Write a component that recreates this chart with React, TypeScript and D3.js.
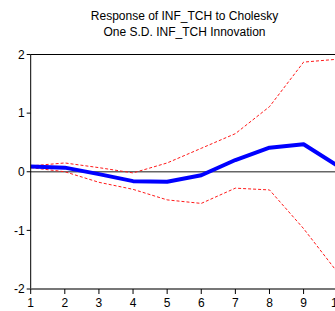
import React from 'react';
import * as d3 from 'd3';

const periods = [1, 2, 3, 4, 5, 6, 7, 8, 9, 10];
const response = [0.09, 0.07, -0.04, -0.16, -0.17, -0.06, 0.2, 0.41, 0.47, 0.1];
const upperBand = [0.1, 0.15, 0.07, -0.02, 0.15, 0.4, 0.65, 1.11, 1.87, 1.92];
const lowerBand = [0.07, 0.0, -0.18, -0.3, -0.48, -0.54, -0.28, -0.31, -0.97, -1.72];
const yTicks = [-2, -1, 0, 1, 2];
const titleLines = ['Response of INF_TCH to Cholesky', 'One S.D. INF_TCH Innovation'];

const App = () => {
  const margin = { top: 54.5, left: 30.7 };
  const width = 307;
  const height = 234.5;

  const x = d3.scaleLinear().domain([1, 10]).range([margin.left, margin.left + width]);
  const y = d3.scaleLinear().domain([-2, 2]).range([margin.top + height, margin.top]);

  const line = (vals: number[]) =>
    d3.line<number>()
      .x((_, i) => x(periods[i]))
      .y(d => y(d))(vals) || '';

  const font = '"Liberation Sans", Arial, sans-serif';

  return (
    <div style={{ position: 'absolute', left: 0, top: 0, width: 335, height: 311, overflow: 'hidden', background: '#fff' }}>
      <svg width={345} height={311} style={{ display: 'block' }} fontFamily={font}>
        {titleLines.map((t, i) => (
          <text key={t} x={184.5} y={20 + i * 16} textAnchor="middle" fontSize={12} fill="#000">{t}</text>
        ))}

        {/* frame */}
        <line x1={margin.left} x2={margin.left + width} y1={margin.top} y2={margin.top} stroke="#000" strokeWidth={1} />
        <line x1={margin.left + width} x2={margin.left + width} y1={margin.top} y2={margin.top + height} stroke="#000" strokeWidth={1} />

        {/* zero line */}
        <line x1={margin.left} x2={margin.left + width} y1={y(0)} y2={y(0)} stroke="#666" strokeWidth={1.5} />

        {/* bands */}
        <path d={line(upperBand)} fill="none" stroke="#ff1a1a" strokeWidth={1} strokeDasharray="3,2" />
        <path d={line(lowerBand)} fill="none" stroke="#ff1a1a" strokeWidth={1} strokeDasharray="3,2" />

        {/* response */}
        <path d={line(response)} fill="none" stroke="#0000ff" strokeWidth={4} strokeLinejoin="round" />

        {/* y axis */}
        <line x1={margin.left} x2={margin.left} y1={margin.top} y2={margin.top + height} stroke="#000" strokeWidth={1} />
        {yTicks.map(t => (
          <g key={t}>
            <line x1={margin.left - 4} x2={margin.left} y1={y(t)} y2={y(t)} stroke="#000" />
            <text x={margin.left - 6} y={y(t)} dy="0.35em" textAnchor="end" fontSize={12} fill="#000">{t}</text>
          </g>
        ))}

        {/* x axis */}
        <line x1={margin.left} x2={margin.left + width} y1={margin.top + height} y2={margin.top + height} stroke="#777" strokeWidth={2} />
        {periods.map(p => (
          <g key={p}>
            <line x1={x(p)} x2={x(p)} y1={margin.top + height} y2={margin.top + height + 5} stroke="#000" />
            <text x={x(p)} y={margin.top + height + 18} textAnchor="middle" fontSize={12} fill="#000">{p}</text>
          </g>
        ))}
      </svg>
    </div>
  );
};

export default App;
